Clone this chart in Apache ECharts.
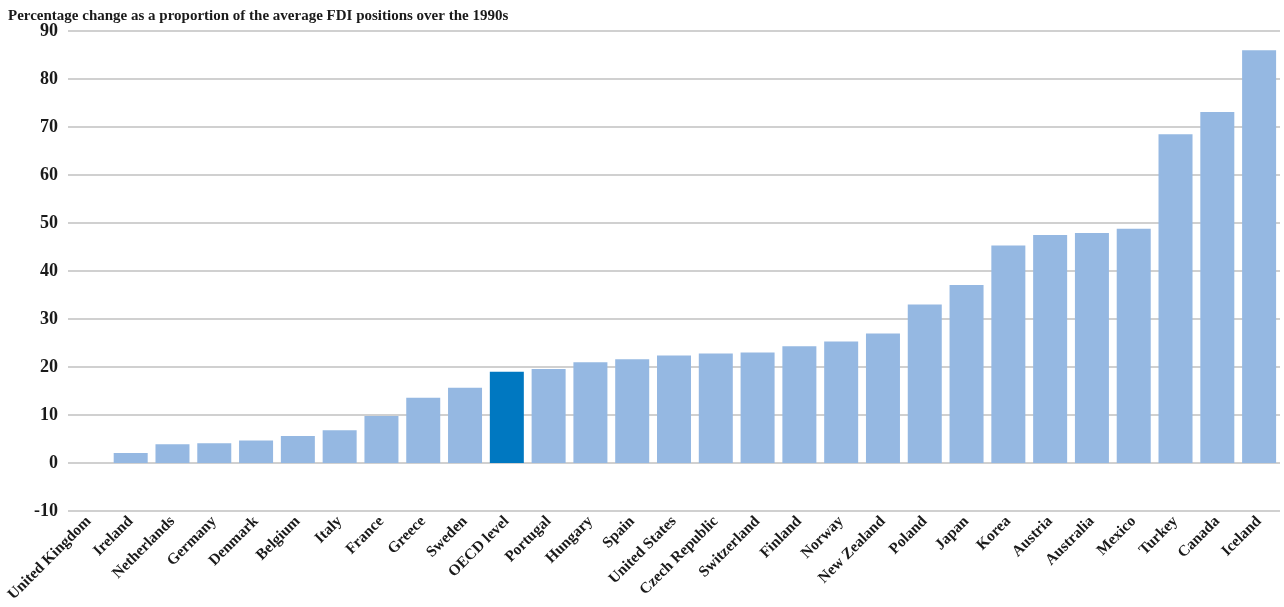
<!DOCTYPE html>
<html><head><meta charset="utf-8">
<script src="https://cdn.jsdelivr.net/npm/echarts@6/dist/echarts.min.js"></script>
<style>html,body{margin:0;padding:0;background:#fff}#c{width:1284px;height:607px}</style>
</head><body><div id="c"></div>
<script>
const categories = ["United Kingdom","Ireland","Netherlands","Germany","Denmark","Belgium","Italy","France","Greece","Sweden","OECD level","Portugal","Hungary","Spain","United States","Czech Republic","Switzerland","Finland","Norway","New Zealand","Poland","Japan","Korea","Austria","Australia","Mexico","Turkey","Canada","Iceland"];
const values = [0,2.1,3.9,4.1,4.7,5.6,6.8,9.8,13.6,15.7,19.0,19.6,21.0,21.6,22.4,22.8,23.0,24.3,25.3,27.0,33.0,37.1,45.3,47.5,47.9,48.8,68.5,73.1,86.0];
const highlight = "OECD level";
const title = "Percentage change as a proportion of the average FDI positions over the 1990s";

const chart = echarts.init(document.getElementById('c'));
chart.setOption({
  animation:false,
  title:{text:title,left:3,top:4,textStyle:{fontFamily:'Liberation Serif',fontSize:15,fontWeight:'bold',color:'#1a1a1a'}},
  grid:{left:68,right:4,top:31,bottom:96},
  xAxis:{type:'category',data:categories,
    axisLine:{show:false},axisTick:{show:false},
    axisLabel:{interval:0,rotate:45,fontFamily:'Liberation Serif',fontWeight:'bold',fontSize:15.5,color:'#1a1a1a',margin:8}},
  yAxis:{type:'value',min:-10,max:90,interval:10,
    axisLine:{show:false},axisTick:{show:false},
    splitLine:{lineStyle:{color:'#d0d0d0',width:2}},
    axisLabel:{fontFamily:'Liberation Serif',fontWeight:'bold',fontSize:18,color:'#1a1a1a',margin:10}},
  series:[{type:'bar',barWidth:34,
    data:values.map((v,i)=>({value:v,itemStyle:{color:categories[i]===highlight?'#0078c1':'#95b8e2'}}))}]
});
</script></body></html>
